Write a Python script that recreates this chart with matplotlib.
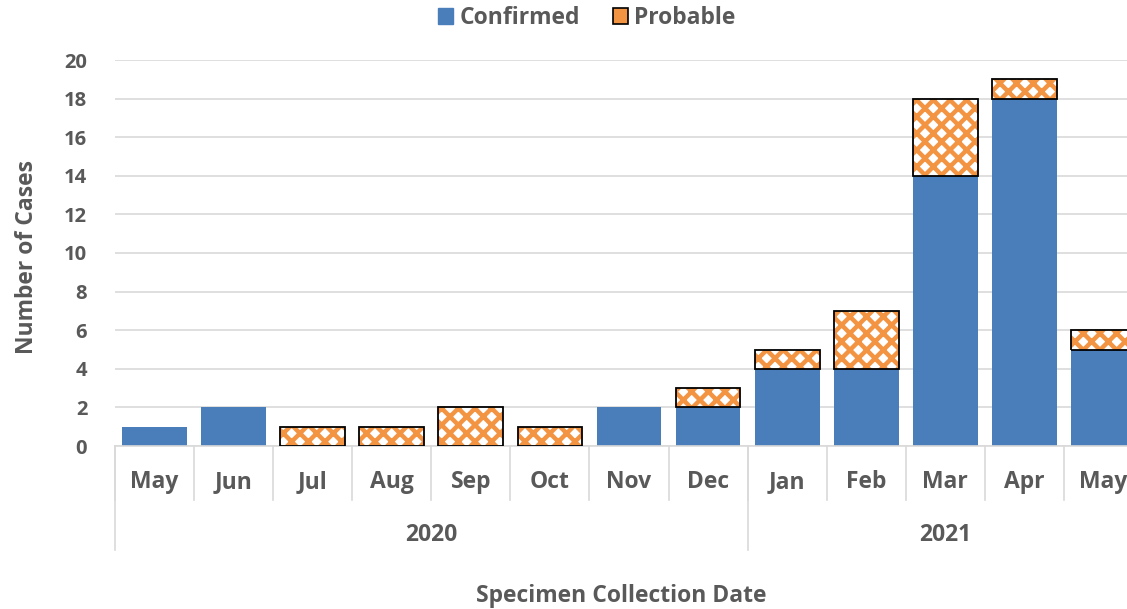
import numpy as np
import matplotlib
matplotlib.use("Agg")
import matplotlib.pyplot as plt
from matplotlib.patches import Patch

# -----------------------------
# Monthly case counts by specimen collection date
# -----------------------------
MONTHS = ["May", "Jun", "Jul", "Aug", "Sep", "Oct", "Nov", "Dec",
          "Jan", "Feb", "Mar", "Apr", "May"]
YEARS = ["2020", "2021"]
MONTHS_PER_YEAR = [8, 5]
CONFIRMED = [1, 2, 0, 0, 0, 0, 2, 2, 4, 4, 14, 18, 5]
PROBABLE = [0, 0, 1, 1, 2, 1, 0, 1, 1, 3, 4, 1, 1]

BLUE = "#4a7ebb"
ORANGE = "#f39443"
TEXT = "#595959"
GRID = "#d9d9d9"
FS = 16.5

plt.rcParams["font.family"] = ["Open Sans", "DejaVu Sans"]
plt.rcParams["font.weight"] = "bold"
plt.rcParams["hatch.linewidth"] = 3.2

W, H = 1127, 609
fig = plt.figure(figsize=(W / 100, H / 100), dpi=100)
# axes runs a little past the right edge of the figure
ax = fig.add_axes([115 / W, 1 - 446 / H, (1143 - 115) / W, (446 - 60) / H])

x = np.arange(len(MONTHS))
conf = np.array(CONFIRMED)
prob = np.array(PROBABLE)
width = 0.82

ax.bar(x, conf, width=width, color=BLUE, zorder=2)

has_prob = prob > 0
ax.bar(x[has_prob], prob[has_prob], bottom=conf[has_prob], width=width,
       facecolor="white", edgecolor=ORANGE, hatch="xx", linewidth=0, zorder=2)
ax.bar(x[has_prob], prob[has_prob], bottom=conf[has_prob], width=width,
       fill=False, edgecolor="black", linewidth=1.3, zorder=3)

ax.set_xlim(-0.5, len(MONTHS) - 0.5)
ax.set_ylim(0, 20)
ax.set_yticks(range(0, 21, 2))
ax.yaxis.grid(True, color=GRID, linewidth=1.2, zorder=0)
ax.set_axisbelow(True)
for side in ["top", "right", "left"]:
    ax.spines[side].set_visible(False)
ax.spines["bottom"].set_color(GRID)
ax.spines["bottom"].set_linewidth(1.2)
ax.tick_params(axis="y", length=0, pad=20, labelsize=14.5, labelcolor=TEXT)
ax.set_xticks([])

# month labels and category separators under the axis
trans = ax.get_xaxis_transform()
axes_h = 446 - 60
for i, m in enumerate(MONTHS):
    ax.text(i, -36 / axes_h, m, transform=trans, ha="center", va="center",
            fontsize=FS, color=TEXT, fontweight="bold", clip_on=False)
for k in range(len(MONTHS) + 1):
    ax.plot([k - 0.5, k - 0.5], [0, -54 / axes_h], transform=trans,
            color=GRID, linewidth=1.2, clip_on=False)

# year group labels and separators
start = 0
for year, n in zip(YEARS, MONTHS_PER_YEAR):
    ax.plot([start - 0.5, start - 0.5], [0, -104 / axes_h], transform=trans,
            color=GRID, linewidth=1.2, clip_on=False)
    ax.text(start + (n - 1) / 2, -89 / axes_h, year, transform=trans,
            ha="center", va="center", fontsize=FS, color=TEXT,
            fontweight="bold", clip_on=False)
    start += n

fig.text(27 / W, 1 - 257 / H, "Number of Cases", rotation=90, ha="center",
         va="center", fontsize=FS, color=TEXT, fontweight="bold")
fig.text(621 / W, 1 - 596 / H, "Specimen Collection Date", ha="center",
         va="center", fontsize=FS, color=TEXT, fontweight="bold")

handles = [
    Patch(facecolor=BLUE, edgecolor=BLUE, label="Confirmed"),
    Patch(facecolor=ORANGE, edgecolor="black", linewidth=1.2, label="Probable"),
]
leg = fig.legend(handles=handles, loc="center", bbox_to_anchor=(587 / W, 1 - 18 / H),
                 ncol=2, frameon=False, handlelength=0.65, handleheight=0.65,
                 handletextpad=0.3, columnspacing=1.4, fontsize=FS)
for t in leg.get_texts():
    t.set_color(TEXT)
    t.set_fontweight("bold")

fig.savefig("out.png", dpi=100)
